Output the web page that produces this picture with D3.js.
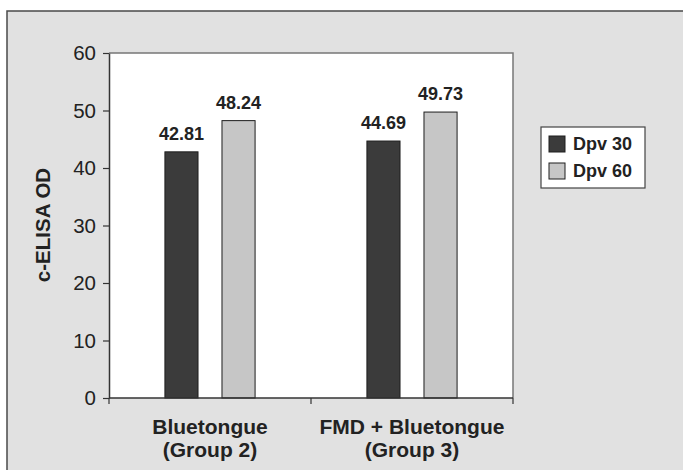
<!DOCTYPE html>
<html>
<head>
<meta charset="utf-8">
<script src="https://cdn.jsdelivr.net/npm/d3@7/dist/d3.min.js"></script>
<style>
  html, body { margin: 0; padding: 0; background: #ffffff; }
  svg { display: block; font-family: "Liberation Sans", Arial, sans-serif; }
</style>
</head>
<body>
<svg id="chart" width="683" height="470"></svg>
<script>
// Group labels (two lines each)
const categories = ["Bluetongue (Group 2)", "FMD + Bluetongue (Group 3)"];
const categoryLines = [["Bluetongue", "(Group 2)"], ["FMD + Bluetongue", "(Group 3)"]];
const seriesNames = ["Dpv 30", "Dpv 60"];
const dpv30 = [42.81, 44.69];
const dpv60 = [48.24, 49.73];
const yTicks = [0, 10, 20, 30, 40, 50, 60];
const yTitle = "c-ELISA OD";

const seriesValues = [dpv30, dpv60];
const colors = ["#3b3b3b", "#c6c6c6"];
const ink = "#222222";

const svg = d3.select("#chart");

// Panel background with a frame running off the right and bottom edges
svg.append("rect")
  .attr("x", 7).attr("y", 11)
  .attr("width", 720).attr("height", 500)
  .attr("fill", "#e1e1e1")
  .attr("stroke", "#4a4a4a").attr("stroke-width", 1.5);

const plot = { left: 109, right: 513, top: 53, bottom: 398 };

const y = d3.scaleLinear().domain([0, 60]).range([plot.bottom, plot.top]);
const x0 = d3.scaleBand().domain(categories).range([plot.left, plot.right]).padding(0);
const x1 = d3.scaleBand().domain(seriesNames).range([0, x0.bandwidth()])
  .paddingInner(0.42).paddingOuter(0.98);

// Plot area
svg.append("rect")
  .attr("x", plot.left).attr("y", plot.top)
  .attr("width", plot.right - plot.left).attr("height", plot.bottom - plot.top)
  .attr("fill", "#ffffff");
svg.append("path")
  .attr("d", `M${plot.left},${plot.top}H${plot.right}V${plot.bottom}`)
  .attr("fill", "none").attr("stroke", "#777777").attr("stroke-width", 1.5);

// Bars
const rows = categories.map((c, i) => ({
  cat: c,
  vals: seriesNames.map((s, j) => ({ s, j, v: seriesValues[j][i] }))
}));

const groups = svg.append("g").selectAll("g").data(rows).join("g")
  .attr("transform", d => `translate(${x0(d.cat)},0)`);

groups.selectAll("rect").data(d => d.vals).join("rect")
  .attr("x", d => x1(d.s))
  .attr("y", d => y(d.v))
  .attr("width", x1.bandwidth())
  .attr("height", d => y(0) - y(d.v))
  .attr("fill", d => colors[d.j])
  .attr("stroke", "#1e1e1e").attr("stroke-width", 1);

groups.selectAll("text").data(d => d.vals).join("text")
  .attr("x", d => x1(d.s) + x1.bandwidth() / 2)
  .attr("y", d => y(d.v) - 12)
  .attr("text-anchor", "middle")
  .attr("font-size", 18).attr("font-weight", "bold")
  .attr("fill", ink)
  .text(d => d.v.toFixed(2));

// Y axis
const yAxis = svg.append("g")
  .attr("transform", `translate(${plot.left},0)`)
  .call(d3.axisLeft(y).tickValues(yTicks).tickSize(6).tickPadding(7).tickSizeOuter(0));
yAxis.select(".domain").attr("stroke", "#333333").attr("stroke-width", 1.5);
yAxis.selectAll(".tick line").attr("stroke", "#333333").attr("stroke-width", 1.2);
yAxis.selectAll(".tick text")
  .attr("font-size", 20.5).attr("fill", ink)
  .attr("font-family", "Liberation Sans, Arial, sans-serif");

// X axis: ticks at category boundaries
const xAxis = svg.append("g").attr("transform", `translate(0,${plot.bottom})`);
xAxis.append("path")
  .attr("d", `M${plot.left},0H${plot.right}`)
  .attr("stroke", "#333333").attr("stroke-width", 1.5);
const bounds = categories.map(c => x0(c)).concat([x0(categories[categories.length - 1]) + x0.bandwidth()]);
xAxis.selectAll("line.b").data(bounds).join("line")
  .attr("class", "b")
  .attr("x1", d => d).attr("x2", d => d)
  .attr("y1", 0).attr("y2", 6)
  .attr("stroke", "#333333").attr("stroke-width", 1.2);

const catLabels = xAxis.selectAll("text").data(categories).join("text")
  .attr("text-anchor", "middle")
  .attr("font-size", 21).attr("font-weight", "bold")
  .attr("fill", ink);
catLabels.selectAll("tspan").data((d, i) => categoryLines[i].map(t => ({ t, c: d })))
  .join("tspan")
  .attr("x", d => x0(d.c) + x0.bandwidth() / 2)
  .attr("y", (d, k) => 36 + k * 23)
  .text(d => d.t);

// Y axis title
svg.append("text")
  .attr("transform", "translate(50,225) rotate(-90)")
  .attr("text-anchor", "middle")
  .attr("font-size", 20.5).attr("font-weight", "bold")
  .attr("fill", ink)
  .text(yTitle);

// Legend
const legend = svg.append("g").attr("transform", "translate(541,127)");
legend.append("rect")
  .attr("x", 0).attr("y", 0).attr("width", 104).attr("height", 61)
  .attr("fill", "#ffffff").attr("stroke", "#444444").attr("stroke-width", 1.2);
const items = legend.selectAll("g").data(seriesNames).join("g")
  .attr("transform", (d, i) => `translate(8,${9 + i * 27})`);
items.append("rect")
  .attr("width", 16).attr("height", 16)
  .attr("fill", (d, i) => colors[i])
  .attr("stroke", "#1e1e1e").attr("stroke-width", 1);
items.append("text")
  .attr("x", 24).attr("y", 14)
  .attr("font-size", 18).attr("font-weight", "bold")
  .attr("fill", ink)
  .text(d => d);
</script>
</body>
</html>
